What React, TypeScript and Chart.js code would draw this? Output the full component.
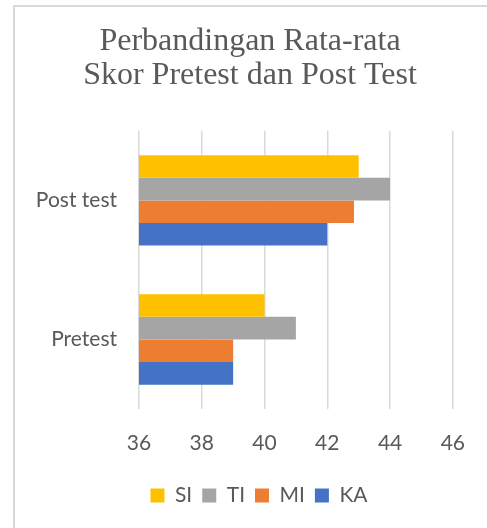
import React, { useEffect, useRef } from "react";
import { Chart, registerables } from "chart.js";

Chart.register(...registerables);

const categories = ["Post test", "Pretest"];
const seriesNames = ["SI", "TI", "MI", "KA"];
const siValues = [43, 40];
const tiValues = [44, 41];
const miValues = [42.85, 39];
const kaValues = [42, 39];
const seriesColors = ["#FFC000", "#A5A5A5", "#ED7D31", "#4472C4"];
const xMin = 36;
const xMax = 46;
const xStep = 2;
const titleLines = ["Perbandingan Rata-rata", "Skor Pretest dan Post Test"];

const recenter = {
  id: "recenter",
  afterLayout(chart: any) {
    if (chart.titleBlock) {
      chart.titleBlock.left = 13;
      chart.titleBlock.right = chart.width;
    }
    if (chart.legend) {
      chart.legend.left = 31;
      chart.legend.right = chart.width;
    }
  },
};

export default function App() {
  const ref = useRef<HTMLCanvasElement | null>(null);

  useEffect(() => {
    if (!ref.current) return;
    const values = [siValues, tiValues, miValues, kaValues];
    const sans = "Lato";
    const chart = new Chart(ref.current, {
      type: "bar",
      data: {
        labels: categories,
        datasets: seriesNames.map((name, i) => ({
          label: name,
          data: values[i],
          backgroundColor: seriesColors[i],
          borderColor: "#ffffff",
          borderWidth: 0,
          categoryPercentage: 0.65,
          barPercentage: 1,
        })),
      },
      plugins: [recenter],
      options: {
        indexAxis: "y",
        animation: false,
        responsive: false,
        maintainAspectRatio: false,
        layout: { padding: { left: 13, right: 33, top: 0, bottom: 12 } },
        plugins: {
          title: {
            display: true,
            text: titleLines,
            color: "#595959",
            font: { family: "Liberation Serif", size: 32, weight: "normal", lineHeight: 1.06 },
            padding: { top: 25, bottom: 38 },
          },
          legend: {
            position: "bottom",
            labels: {
              color: "#595959",
              font: { family: sans, size: 21 },
              boxWidth: 14,
              boxHeight: 14,
              padding: 10,
            },
          },
          tooltip: { enabled: false },
        },
        scales: {
          x: {
            min: xMin,
            max: xMax,
            ticks: {
              stepSize: xStep,
              color: "#595959",
              font: { family: sans, size: 21 },
              padding: 22,
            },
            grid: { color: "#d9d9d9", lineWidth: 1.5, drawTicks: false },
            border: { display: false },
            afterFit: (s: any) => {
              s.height = 66;
            },
          },
          y: {
            ticks: {
              color: "#595959",
              font: { family: sans, size: 21 },
              padding: 22,
            },
            grid: { display: false, drawTicks: false },
            border: { display: false },
            afterFit: (s: any) => {
              s.width = 126;
            },
          },
        },
      },
    });
    return () => chart.destroy();
  }, []);

  return (
    <div style={{ position: "fixed", left: 0, top: 0, width: 487, height: 528, background: "#fff", overflow: "hidden" }}>
      <div
        style={{
          position: "absolute",
          left: 13,
          top: 5,
          width: 500,
          height: 540,
          borderLeft: "2px solid #d9d9d9",
          borderTop: "2px solid #d9d9d9",
        }}
      />
      <canvas ref={ref} width={487} height={528} style={{ position: "absolute", left: 0, top: 0 }} />
    </div>
  );
}
